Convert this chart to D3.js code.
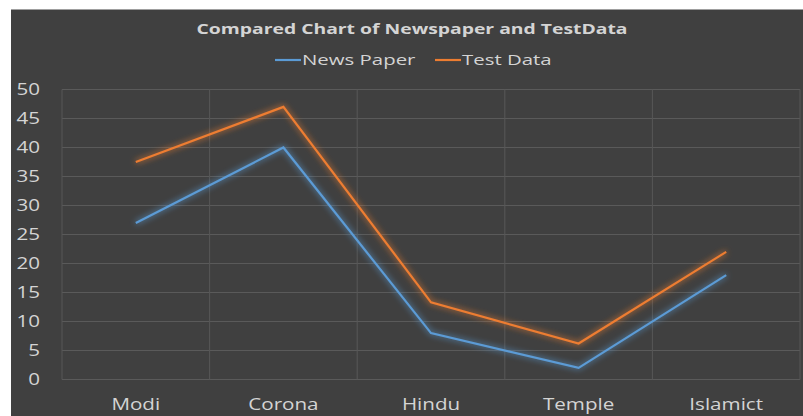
<!DOCTYPE html>
<html><head><meta charset="utf-8">
<script src="https://cdn.jsdelivr.net/npm/d3@7"></script>
<style>body{margin:0;background:#fff}svg{display:block}</style>
</head><body>
<script>
const categories = ["Modi","Corona","Hindu","Temple","Islamict"];
const newsPaper = [27, 40, 8, 2, 18];
const testData = [37.5, 47, 13.3, 6.2, 22];
const yTicks = [0,5,10,15,20,25,30,35,40,45,50];
const seriesNames = ["News Paper","Test Data"];
const colors = ["#5b9bd5","#ed7d31"];

const W = 803, H = 416;
const SX = 1.33; // horizontal stretch of text seen in the reference
const svg = d3.select("body").append("svg").attr("width",W).attr("height",H);
const defs = svg.append("defs");
const f = defs.append("filter").attr("id","glow").attr("x","-20%").attr("y","-20%").attr("width","140%").attr("height","140%");
f.append("feGaussianBlur").attr("in","SourceGraphic").attr("stdDeviation",3).attr("result","b");
f.append("feComponentTransfer").attr("in","b").attr("result","b2")
  .append("feFuncA").attr("type","linear").attr("slope",1.1);
const m = f.append("feMerge");
m.append("feMergeNode").attr("in","b2");
m.append("feMergeNode").attr("in","SourceGraphic");

svg.append("rect").attr("x",11).attr("y",9.5).attr("width",W-11).attr("height",H-9.5).attr("fill","#404040");

const x = d3.scaleBand().domain(categories).range([62, 800]);
const y = d3.scaleLinear().domain([0,50]).range([379.5, 89.5]);

const font = "'Open Sans', sans-serif";
const txtCol = "#d4d4d4";

// grid
const g = svg.append("g");
g.selectAll(".h").data(yTicks).join("line")
  .attr("x1",62).attr("x2",800).attr("y1",d=>y(d)).attr("y2",d=>y(d))
  .attr("stroke","#5a5a5a").attr("stroke-width",1);
const vb = categories.map(c=>x(c)).concat([x.range()[1]]);
g.selectAll(".v").data(vb).join("line")
  .attr("x1",d=>d).attr("x2",d=>d).attr("y1",y(50)).attr("y2",y(0))
  .attr("stroke","#575757").attr("stroke-width",1);

// y axis
const ya = svg.append("g").attr("transform","translate(40,0)")
  .call(d3.axisLeft(y).tickValues(yTicks).tickSize(0).tickPadding(0));
ya.select(".domain").remove();
ya.selectAll("text").attr("fill",txtCol).attr("font-family",font).attr("font-size",15.5)
  .attr("x",0).attr("dy","0.35em").attr("transform",`scale(${SX},1)`);
// x axis
const xa = svg.append("g").attr("transform",`translate(0,${y(0)})`)
  .call(d3.axisBottom(x).tickSize(0).tickPadding(0));
xa.select(".domain").remove();
xa.selectAll("text").attr("fill",txtCol).attr("font-family",font).attr("font-size",15.5)
  .attr("y",25).attr("dy","0.35em").attr("transform",`scale(${SX},1)`);

// lines
const line = d3.line().x((d,i)=>x(categories[i])+x.bandwidth()/2).y(d=>y(d));
[newsPaper,testData].forEach((s,i)=>{
  svg.append("path").datum(s).attr("d",line).attr("fill","none")
    .attr("stroke",colors[i]).attr("stroke-width",2.2).attr("stroke-linejoin","miter")
    .attr("filter","url(#glow)");
});

// title
const TS = 1.29;
svg.append("text").attr("x",412/TS).attr("y",29).attr("dy","0.35em").attr("text-anchor","middle")
  .attr("transform",`scale(${TS},1)`)
  .attr("fill",txtCol).attr("font-family",font).attr("font-weight","bold").attr("font-size",15)
  .text("Compared Chart of Newspaper and TestData");

// legend
const LS = 1.36;
const legX = [275, 435];
seriesNames.forEach((n,i)=>{
  svg.append("line").attr("x1",legX[i]).attr("x2",legX[i]+26).attr("y1",60).attr("y2",60)
    .attr("stroke",colors[i]).attr("stroke-width",2.2);
  svg.append("text").attr("x",(legX[i]+27)/LS).attr("y",60).attr("dy","0.35em")
    .attr("transform",`scale(${LS},1)`)
    .attr("fill",txtCol).attr("font-family",font).attr("font-size",15).text(n);
});
</script>
</body></html>
